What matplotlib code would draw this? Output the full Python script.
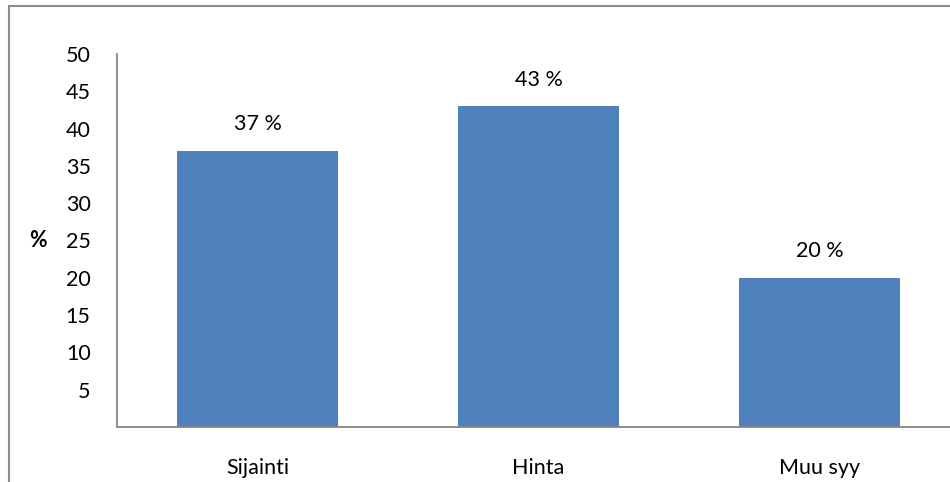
import matplotlib.pyplot as plt
from matplotlib.patches import Rectangle

categories = ["Sijainti", "Hinta", "Muu syy"]
values = [37, 43, 20]
value_labels = ["37 %", "43 %", "20 %"]
y_ticks = [5, 10, 15, 20, 25, 30, 35, 40, 45, 50]

plt.rcParams["font.family"] = ["Lato", "DejaVu Sans"]
FS = 15.5

fig = plt.figure(figsize=(9.5, 4.82), dpi=100)
ax = fig.add_axes([117 / 950, 55 / 482, 833 / 950, 373 / 482])

x = list(range(len(categories)))
bars = ax.bar(x, values, width=0.57, color="#4F81BD", zorder=2)

for bar, text in zip(bars, value_labels):
    ax.annotate(text, (bar.get_x() + bar.get_width() / 2, bar.get_height()),
                xytext=(0, 12), textcoords="offset points",
                ha="center", va="bottom", fontsize=FS, color="#000000")

ax.set_xlim(-0.5, 2.5 - 10 / 281)
ax.set_ylim(0, 50)
ax.set_yticks(y_ticks)
ax.set_xticks(x)
ax.set_xticklabels(categories)
ax.tick_params(axis="both", length=0, labelsize=FS, colors="#000000")
ax.tick_params(axis="y", pad=19)
ax.tick_params(axis="x", pad=22)

ax.set_ylabel("%", rotation=0, fontsize=FS, fontweight="bold", labelpad=20, va="center")

for side in ("top", "right"):
    ax.spines[side].set_visible(False)
for side in ("left", "bottom"):
    ax.spines[side].set_color("#868686")
    ax.spines[side].set_linewidth(1.3)

# chart area frame, running off the right and bottom edges
fig.patches.append(Rectangle((9 / 950, -0.1), 1.2, 0.1 + (482 - 6) / 482,
                             transform=fig.transFigure, fill=False,
                             edgecolor="#8C8C8C", linewidth=1.5))

fig.savefig("out.png", dpi=100)
